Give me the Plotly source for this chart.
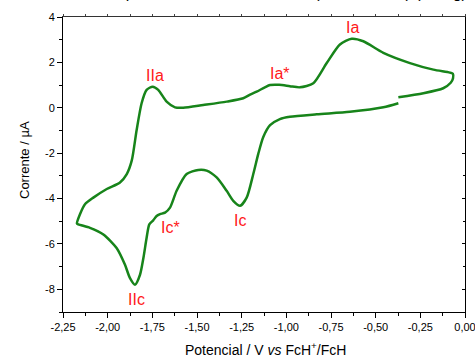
import plotly.graph_objects as go

# Cyclic voltammogram (V vs FcH+/FcH, current in µA)
potential = [-0.373, -0.457, -0.644, -0.830, -0.980, -1.036, -1.091, -1.129, -1.157,
             -1.185, -1.222, -1.259, -1.297, -1.334, -1.390, -1.446, -1.493, -1.558,
             -1.614, -1.651, -1.679, -1.707, -1.726, -1.745, -1.767, -1.782, -1.800,
             -1.819, -1.847, -1.875, -1.903, -1.950, -2.024, -2.099, -2.164, -2.172,
             -2.155, -2.127, -2.080, -2.005, -1.931, -1.893, -1.865, -1.838, -1.810,
             -1.782, -1.748, -1.717, -1.670, -1.623, -1.577, -1.465, -1.334, -1.241,
             -1.203, -1.166, -1.120, -1.091, -1.040, -0.980, -0.924, -0.849, -0.774,
             -0.700, -0.634, -0.569, -0.457, -0.308, -0.177, -0.085, -0.068, -0.067,
             -0.080, -0.122, -0.233, -0.373]
current = [0.20, 0.02, -0.18, -0.29, -0.40, -0.50, -0.77, -1.29, -2.03,
           -2.92, -3.96, -4.32, -4.10, -3.66, -3.07, -2.77, -2.74, -2.92,
           -3.66, -4.40, -4.62, -4.69, -4.77, -4.96, -5.14, -5.73, -6.62,
           -7.36, -7.80, -7.51, -6.92, -6.18, -5.58, -5.29, -5.14, -5.10,
           -4.69, -4.25, -3.96, -3.58, -3.29, -2.92, -2.32, -0.99, 0.20,
           0.79, 0.93, 0.79, 0.27, 0.02, 0.00, 0.12, 0.27, 0.42,
           0.58, 0.71, 0.90, 1.00, 1.01, 0.95, 0.90, 1.08, 1.97,
           2.79, 3.04, 2.93, 2.42, 1.97, 1.68, 1.55, 1.50, 1.30,
           1.10, 0.86, 0.64, 0.46]

peak_labels = ["Ia", "Ia*", "IIa", "Ic", "Ic*", "IIc"]
peak_x = [-0.632, -1.035, -1.735, -1.257, -1.651, -1.836]
peak_y = [3.54, 1.50, 1.41, -4.97, -5.26, -8.44]

x_ticks = [-2.25, -2.0, -1.75, -1.5, -1.25, -1.0, -0.75, -0.5, -0.25, 0.0]
x_tick_text = ["-2,25", "-2,00", "-1,75", "-1,50", "-1,25", "-1,00", "-0,75", "-0,50", "-0,25", "0,00"]
y_ticks = [4, 2, 0, -2, -4, -6, -8]
y_tick_text = ["4", "2", "0", "-2", "-4", "-6", "-8"]

FONT = "Arial, Liberation Sans, sans-serif"

fig = go.Figure()
fig.add_trace(go.Scatter(x=potential, y=current, mode="lines",
                         line=dict(color="#17841a", width=2.5, shape="spline", smoothing=0.7),
                         showlegend=False, hoverinfo="skip"))

for t, px, py in zip(peak_labels, peak_x, peak_y):
    fig.add_annotation(x=px, y=py, text=t, showarrow=False,
                       font=dict(family=FONT, size=16, color="#ff1a1a"))

# secondary axes for the top / right frame ticks
fig.add_trace(go.Scatter(x=[-1.0], y=[0], xaxis="x2", yaxis="y2", mode="markers",
                         marker=dict(opacity=0), showlegend=False, hoverinfo="skip"))

common = dict(showgrid=False, zeroline=False, showline=True, linecolor="black",
              linewidth=1, automargin=False)
fig.update_layout(
    width=475, height=358,
    margin=dict(l=63, r=10, t=17, b=46),
    paper_bgcolor="white", plot_bgcolor="white",
    xaxis=dict(range=[-2.25, 0.0], tickvals=x_ticks, ticktext=x_tick_text,
               ticks="outside", ticklen=5, tickcolor="black", ticklabeloverflow="allow",
               minor=dict(tickvals=[-2.125 + 0.25 * i for i in range(9)],
                          ticks="outside", ticklen=3, tickcolor="black"),
               tickfont=dict(family=FONT, size=11, color="black"), **common),
    yaxis=dict(range=[-9, 4], tickvals=y_ticks, ticktext=y_tick_text,
               ticks="outside", ticklen=5, tickcolor="black", ticklabeloverflow="allow",
               minor=dict(tickvals=[3, 1, -1, -3, -5, -7, -9],
                          ticks="outside", ticklen=3, tickcolor="black"),
               tickfont=dict(family=FONT, size=11, color="black"), **common),
    xaxis2=dict(range=[-2.25, 0.0], overlaying="x", side="top", showticklabels=False,
                tickvals=x_ticks, ticks="outside", ticklen=2, tickcolor="#444",
                minor=dict(tickvals=[-2.125 + 0.25 * i for i in range(9)],
                           ticks="outside", ticklen=2, tickcolor="#444"),
                showgrid=False, zeroline=False, showline=True, linecolor="#333",
                linewidth=1, automargin=False),
    yaxis2=dict(range=[-9, 4], overlaying="y", side="right", showticklabels=False,
                tickvals=y_ticks, ticks="inside", ticklen=3, tickcolor="black",
                minor=dict(tickvals=[3, 1, -1, -3, -5, -7, -9],
                           ticks="inside", ticklen=2, tickcolor="black"),
                showgrid=False, zeroline=False, showline=True, linecolor="black",
                linewidth=1, automargin=False),
)

fig.add_annotation(xref="paper", yref="paper", x=0.5, y=0, yshift=-48, xshift=1,
                   yanchor="bottom", showarrow=False,
                   text="Potencial / V <i>vs</i> FcH<sup>+</sup>/FcH",
                   font=dict(family=FONT, size=14, color="black"))
fig.add_annotation(xref="paper", yref="paper", x=0, y=0.5, xshift=-48, yshift=4,
                   textangle=-90, showarrow=False, text="Corrente / µA",
                   font=dict(family=FONT, size=13, color="black"))
fig.add_annotation(xref="paper", yref="paper", x=0.067, y=1, yshift=14,
                   xanchor="left", yanchor="bottom", showarrow=False,
                   text="Complexo de cobre em DMSO (1 mM TBAP) (Ar/Hg)",
                   font=dict(family=FONT, size=16, color="black"))

fig.write_html("out.html", config={"displayModeBar": False},
               post_script="document.body.style.margin='0';document.body.style.overflow='hidden';")
